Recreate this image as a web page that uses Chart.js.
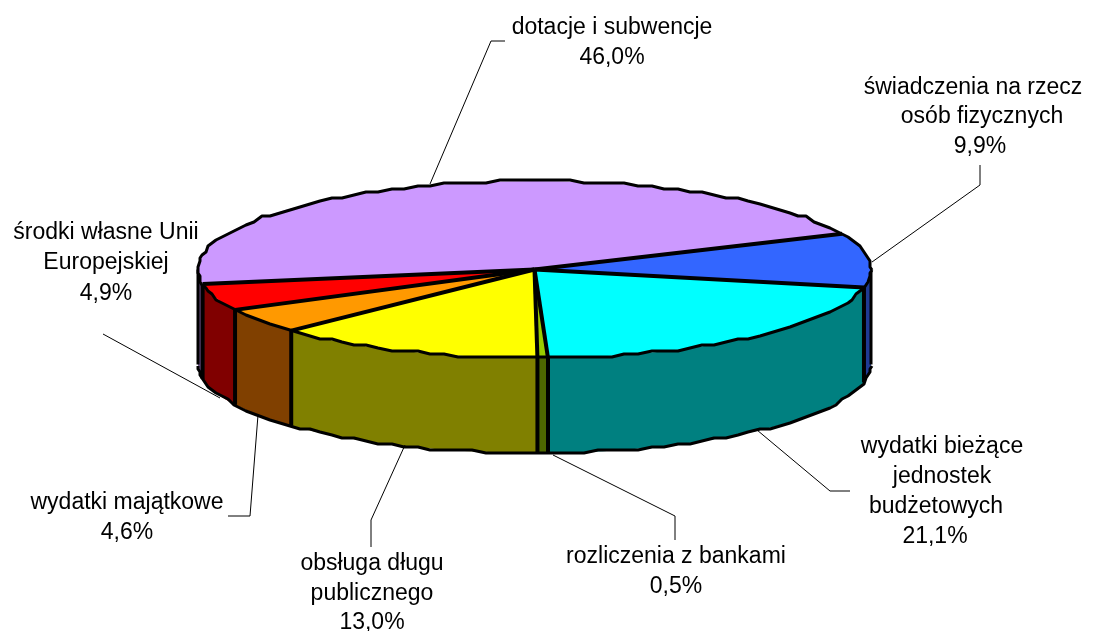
<!DOCTYPE html>
<html><head><meta charset="utf-8">
<style>html,body{margin:0;padding:0;background:#fff;overflow:hidden}canvas{display:block}</style>
<script src="https://cdn.jsdelivr.net/npm/chart.js@4"></script>
</head><body><canvas id="c" width="1096" height="631"></canvas>
<script>
const categories=["dotacje i subwencje","świadczenia na rzecz osób fizycznych","wydatki bieżące jednostek budżetowych","rozliczenia z bankami","obsługa długu publicznego","wydatki majątkowe","środki własne Unii Europejskiej"];
const values=[46.0,9.9,21.1,0.5,13.0,4.6,4.9];
const topColors=["#CC99FF","#3366FF","#00FFFF","#99CC00","#FFFF00","#FF9900","#FF0000"];
const wallColors=["#664C80","#1F3A93","#008080","#4D6600","#808000","#804000","#800000"];
const labelLines=[
 [["dotacje i subwencje",612,28],["46,0%",612,58]],
 [["świadczenia na rzecz",973,88],["osób fizycznych",982,117],["9,9%",980,147]],
 [["wydatki bieżące",942,447],["jednostek",942,477],["budżetowych",936,507],["21,1%",935,537]],
 [["rozliczenia z bankami",676,557],["0,5%",676,587]],
 [["obsługa długu",372,564],["publicznego",372,594],["13,0%",372,623]],
 [["wydatki majątkowe",127,503],["4,6%",127,533]],
 [["środki własne Unii",106,233],["Europejskiej",106,263],["4,9%",106,294]]
];
const leaders=[
 [[430,184],[491,41],[505,41]],
 [[872,262],[980,185],[980,165]],
 [[757,430],[830,491],[850,491]],
 [[553,455],[675,516],[675,540]],
 [[405,445],[371,520],[371,547]],
 [[258,415],[250,516],[228,516]],
 [[103,334],[220,398]]
];
const view={cx:534.5,cy:269.5,rx:336.5,ry:88.5,depth:95};
const TAU=Math.PI*2;
function frontRanges(a,b){const out=[];for(const k of[-TAU,0,TAU]){const s=Math.max(a+k,0),e=Math.min(b+k,Math.PI);if(e>s)out.push([s,e]);}return out;}
// faceted outline, like the coarse polygon of the original drawing
function facetRim(ctx,v,dy,from,to){
 const n=Math.round((to-from)/TAU*150);
 ctx.beginPath();
 for(let i=0;i<=n;i++){
  const t=from+(to-from)*i/n;
  const x=Math.round((v.cx+v.rx*Math.cos(t))/2)*2;
  const y=Math.round((v.cy+dy+v.ry*Math.sin(t))/3)*3;
  i?ctx.lineTo(x,y):ctx.moveTo(x,y);
 }
 ctx.stroke();
}
const pie3d={id:'pie3d',
 beforeDatasetsDraw(chart){
  const ctx=chart.ctx,v=view,arcs=chart.getDatasetMeta(0).data;
  ctx.save();ctx.lineJoin='round';
  arcs.forEach((arc,i)=>{
    frontRanges(arc.startAngle,arc.endAngle).forEach(([s,e])=>{
      ctx.beginPath();
      ctx.ellipse(v.cx,v.cy,v.rx,v.ry,0,s,e);
      ctx.ellipse(v.cx,v.cy+v.depth,v.rx,v.ry,0,e,s,true);
      ctx.closePath();
      ctx.fillStyle=wallColors[i];ctx.fill();
    });
  });
  ctx.lineWidth=3;ctx.strokeStyle='#000';
  facetRim(ctx,v,v.depth,0,Math.PI);
  ctx.beginPath();ctx.moveTo(v.cx+v.rx,v.cy);ctx.lineTo(v.cx+v.rx,v.cy+v.depth);ctx.moveTo(v.cx-v.rx,v.cy);ctx.lineTo(v.cx-v.rx,v.cy+v.depth);ctx.stroke();
  ctx.lineWidth=4;
  arcs.forEach(arc=>{
    const n=((arc.endAngle%TAU)+TAU)%TAU;
    if(n>0&&n<Math.PI){const x=v.cx+v.rx*Math.cos(n),y=v.cy+v.ry*Math.sin(n);
      ctx.beginPath();ctx.moveTo(x,y);ctx.lineTo(x,y+v.depth);ctx.stroke();}
  });
  ctx.restore();
  const a0=arcs[0];
  ctx.save();ctx.translate(v.cx,v.cy);ctx.scale(v.rx/a0.outerRadius,v.ry/a0.outerRadius);ctx.translate(-a0.x,-a0.y);
 },
 afterDatasetsDraw(chart){
  const ctx=chart.ctx,v=view,arcs=chart.getDatasetMeta(0).data;
  ctx.restore();
  ctx.save();ctx.strokeStyle='#000';ctx.lineJoin='round';
  ctx.lineWidth=4;
  arcs.forEach(arc=>{
    const a=arc.endAngle;
    ctx.beginPath();ctx.moveTo(v.cx,v.cy);ctx.lineTo(v.cx+v.rx*Math.cos(a),v.cy+v.ry*Math.sin(a));ctx.stroke();
  });
  ctx.lineWidth=3;facetRim(ctx,v,0,0,TAU);
  ctx.restore();
  ctx.save();
  ctx.strokeStyle='#000';ctx.lineWidth=1;
  leaders.forEach(l=>{ctx.beginPath();l.forEach((p,i)=>i?ctx.lineTo(p[0],p[1]):ctx.moveTo(p[0],p[1]));ctx.stroke();});
  ctx.fillStyle='#000';ctx.font='23px "Liberation Sans"';ctx.textAlign='center';ctx.textBaseline='middle';
  labelLines.forEach(g=>g.forEach(([t,x,y])=>ctx.fillText(t,x,y)));
  ctx.restore();
 }
};
new Chart(document.getElementById('c'),{
 type:'pie',
 data:{labels:categories,datasets:[{data:values,backgroundColor:topColors,borderWidth:0}]},
 options:{responsive:false,animation:false,rotation:260.5,layout:{padding:0},
  plugins:{legend:{display:false},tooltip:{enabled:false}}},
 plugins:[pie3d]
});
</script></body></html>
